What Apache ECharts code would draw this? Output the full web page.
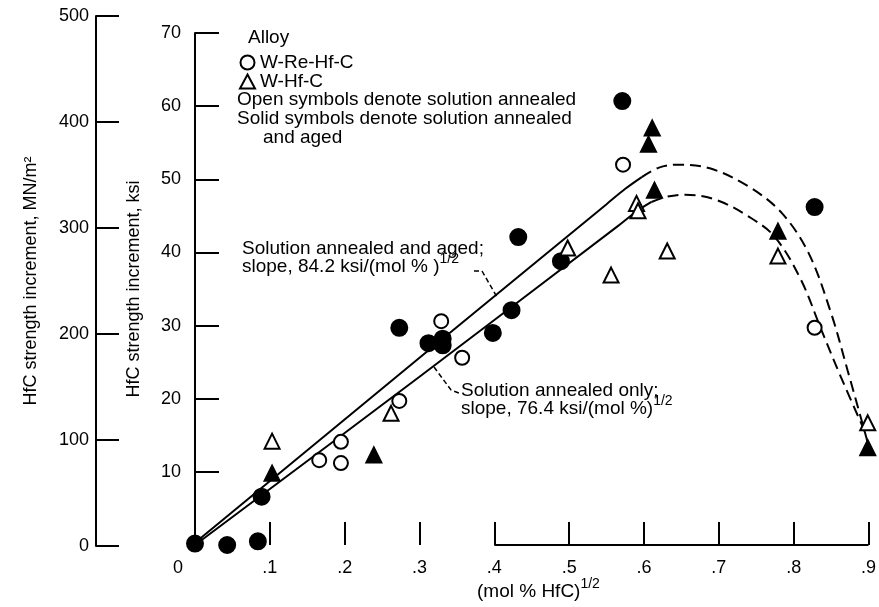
<!DOCTYPE html>
<html>
<head>
<meta charset="utf-8">
<script src="https://cdn.jsdelivr.net/npm/echarts@6/dist/echarts.min.js"></script>
<style>
  html, body { margin: 0; padding: 0; background: #fff; }
  #chart { width: 879px; height: 607px; }
</style>
</head>
<body>
<div id="chart"></div>
<script>
// x = (mol % HfC)^1/2, y = strength increment in ksi
var openCircles = [[0.166, 11.6], [0.195, 14.1], [0.195, 11.2], [0.273, 19.7], [0.329, 30.6], [0.357, 25.6], [0.572, 52.0], [0.828, 29.7]];
var solidCircles = [[0.0, 0.2], [0.043, 0.0], [0.084, 0.5], [0.089, 6.6], [0.273, 29.7], [0.312, 27.6], [0.331, 28.2], [0.331, 27.3], [0.398, 29.0], [0.423, 32.1], [0.432, 42.1], [0.489, 38.8], [0.571, 60.7], [0.828, 46.2]];
var openTriangles = [[0.103, 14.2], [0.262, 18.0], [0.498, 40.6], [0.556, 36.9], [0.590, 46.7], [0.592, 45.7], [0.631, 40.2], [0.779, 39.5], [0.899, 16.7]];
var solidTriangles = [[0.103, 9.8], [0.239, 12.3], [0.606, 54.8], [0.611, 57.0], [0.614, 48.5], [0.779, 42.9], [0.899, 13.3]];

// fitted curves (solid = straight fit, dashed = extrapolated)
var agedSolid = [[0, 0.3], [0.3, 25.6], [0.55, 46.6], [0.575, 48.7], [0.597, 50.3]];
var agedDashed = [[0.597, 50.3], [0.62, 51.6], [0.645, 52.0], [0.688, 51.5], [0.74, 49.0], [0.784, 45.4], [0.82, 39.9], [0.85, 31.7], [0.872, 23.9], [0.899, 14.0]];
var annealedSolid = [[0, 0], [0.3, 23.0], [0.565, 43.6], [0.59, 45.6], [0.61, 46.9]];
var annealedDashed = [[0.61, 46.9], [0.63, 47.6], [0.655, 47.9], [0.696, 47.2], [0.74, 44.9], [0.775, 42.1], [0.81, 36.2], [0.837, 29.4], [0.863, 23.0], [0.896, 15.3]];
var baseLine = [[0.4, 0], [0.9, 0]];

var xTicks = [0.1, 0.2, 0.3, 0.4, 0.5, 0.6, 0.7, 0.8, 0.9];
var xLabels = [0, 0.1, 0.2, 0.3, 0.4, 0.5, 0.6, 0.7, 0.8, 0.9];
var ksiTicks = [10, 20, 30, 40, 50, 60, 70];

var FONT = "'Liberation Sans', Arial, sans-serif";
var txt = { fontFamily: FONT, fontSize: 18, color: '#000' };
var NOTE = '19px ' + FONT;

var myChart = echarts.init(document.getElementById('chart'));

function scatter(name, data, symbol, filled, size) {
  return {
    name: name, type: 'scatter', data: data, symbol: symbol, symbolSize: size,
    xAxisIndex: 0, yAxisIndex: 0, z: 5,
    itemStyle: { color: filled ? '#000' : '#fff', borderColor: '#000', borderWidth: 2, opacity: 1 }
  };
}
function curve(data, dashed) {
  return {
    type: 'line', data: data, symbol: 'none', smooth: 0.35, silent: true,
    xAxisIndex: 0, yAxisIndex: 0, z: 3,
    lineStyle: { color: '#000', width: 2, type: dashed ? [11, 6] : 'solid' }
  };
}
function supText(main, sup) {
  return '{m|' + main + '}{s|' + sup + '}';
}
var supRich = {
  m: { fontFamily: FONT, fontSize: 19, lineHeight: 30, color: '#000' },
  s: { fontFamily: FONT, fontSize: 14, lineHeight: 14, verticalAlign: 'top', color: '#000' }
};

var option = {
  backgroundColor: '#fff',
  animation: false,
  textStyle: txt,
  grid: [
    { left: 195, right: 1, top: 33, bottom: 62 },
    { left: 96, width: 10, top: 16, bottom: 61 }
  ],
  legend: {
    data: ['W-Re-Hf-C', 'W-Hf-C'],
    orient: 'vertical', left: 239, top: 53, itemGap: 0, padding: 0,
    itemWidth: 15, itemHeight: 14, selectedMode: false,
    textStyle: { fontFamily: FONT, fontSize: 19, color: '#000' }
  },
  xAxis: [
    {
      type: 'value', gridIndex: 0, min: 0, max: 0.9, interval: 0.1,
      axisLine: { show: false },
      axisTick: { show: true, inside: true, length: 23, customValues: xTicks, lineStyle: { color: '#000', width: 2 } },
      axisLabel: {
        customValues: xLabels, margin: 14, fontFamily: FONT, fontSize: 18, color: '#000',
        formatter: function (v) {
          return v === 0 ? '{z|0}' : '.' + Math.round(v * 10);
        },
        rich: { z: { fontFamily: FONT, fontSize: 18, color: '#000', padding: [0, 34, 0, 0] } }
      },
      splitLine: { show: false }
    },
    { type: 'value', gridIndex: 1, min: 0, max: 1, show: false }
  ],
  yAxis: [
    {
      type: 'value', gridIndex: 0, min: 0, max: 70, interval: 10,
      name: 'HfC strength increment, ksi', nameLocation: 'middle', nameGap: 52,
      nameTextStyle: txt,
      axisLine: { show: true, lineStyle: { color: '#000', width: 2 } },
      axisTick: { show: true, inside: true, length: 24, customValues: ksiTicks, lineStyle: { color: '#000', width: 2 } },
      axisLabel: { customValues: ksiTicks, margin: 14, fontFamily: FONT, fontSize: 18, color: '#000' },
      splitLine: { show: false }
    },
    {
      type: 'value', gridIndex: 1, min: 0, max: 500, interval: 100,
      name: 'HfC strength increment, MN/m²', nameLocation: 'middle', nameGap: 56,
      nameTextStyle: txt,
      axisLine: { show: true, lineStyle: { color: '#000', width: 2 } },
      axisTick: { show: true, inside: true, length: 23, lineStyle: { color: '#000', width: 2 } },
      axisLabel: { margin: 7, fontFamily: FONT, fontSize: 18, color: '#000' },
      splitLine: { show: false }
    }
  ],
  series: [
    curve(agedSolid, false),
    curve(agedDashed, true),
    curve(annealedSolid, false),
    curve(annealedDashed, true),
    {
      type: 'line', data: baseLine, symbol: 'none', silent: true, xAxisIndex: 0, yAxisIndex: 0,
      lineStyle: { color: '#000', width: 2 }
    },
    scatter('W-Re-Hf-C', openCircles, 'circle', false, 14),
    scatter('W-Re-Hf-C aged', solidCircles, 'circle', true, 16),
    scatter('W-Hf-C', openTriangles, 'triangle', false, 15),
    scatter('W-Hf-C aged', solidTriangles, 'triangle', true, 15)
  ],
  graphic: [
    { type: 'text', left: 248, top: 28, style: { text: 'Alloy', font: NOTE, fill: '#000' } },
    { type: 'text', left: 237, top: 90, style: { text: 'Open symbols denote solution annealed', font: NOTE, fill: '#000' } },
    { type: 'text', left: 237, top: 109, style: { text: 'Solid symbols denote solution annealed', font: NOTE, fill: '#000' } },
    { type: 'text', left: 263, top: 128, style: { text: 'and aged', font: NOTE, fill: '#000' } },
    { type: 'text', left: 242, top: 239, style: { text: 'Solution annealed and aged;', font: NOTE, fill: '#000' } },
    { type: 'text', left: 242, top: 252, style: { text: supText('slope, 84.2 ksi/(mol % )', '1/2'), rich: supRich } },
    { type: 'text', left: 461, top: 381, style: { text: 'Solution annealed only;', font: NOTE, fill: '#000' } },
    { type: 'text', left: 461, top: 394, style: { text: supText('slope, 76.4 ksi/(mol %)', '1/2'), rich: supRich } },
    { type: 'text', left: 477, top: 577, style: { text: supText('(mol % HfC)', '1/2'), rich: supRich } },
    {
      type: 'polyline', shape: { points: [[474, 271], [482, 271], [497, 297]] },
      style: { stroke: '#000', lineWidth: 1.5, lineDash: [5, 3], fill: null }
    },
    {
      type: 'polyline', shape: { points: [[434, 367], [451, 390], [459, 393]] },
      style: { stroke: '#000', lineWidth: 1.5, lineDash: [5, 3], fill: null }
    }
  ]
};

myChart.setOption(option);
window.addEventListener('resize', function () { myChart.resize(); });
</script>
</body>
</html>
